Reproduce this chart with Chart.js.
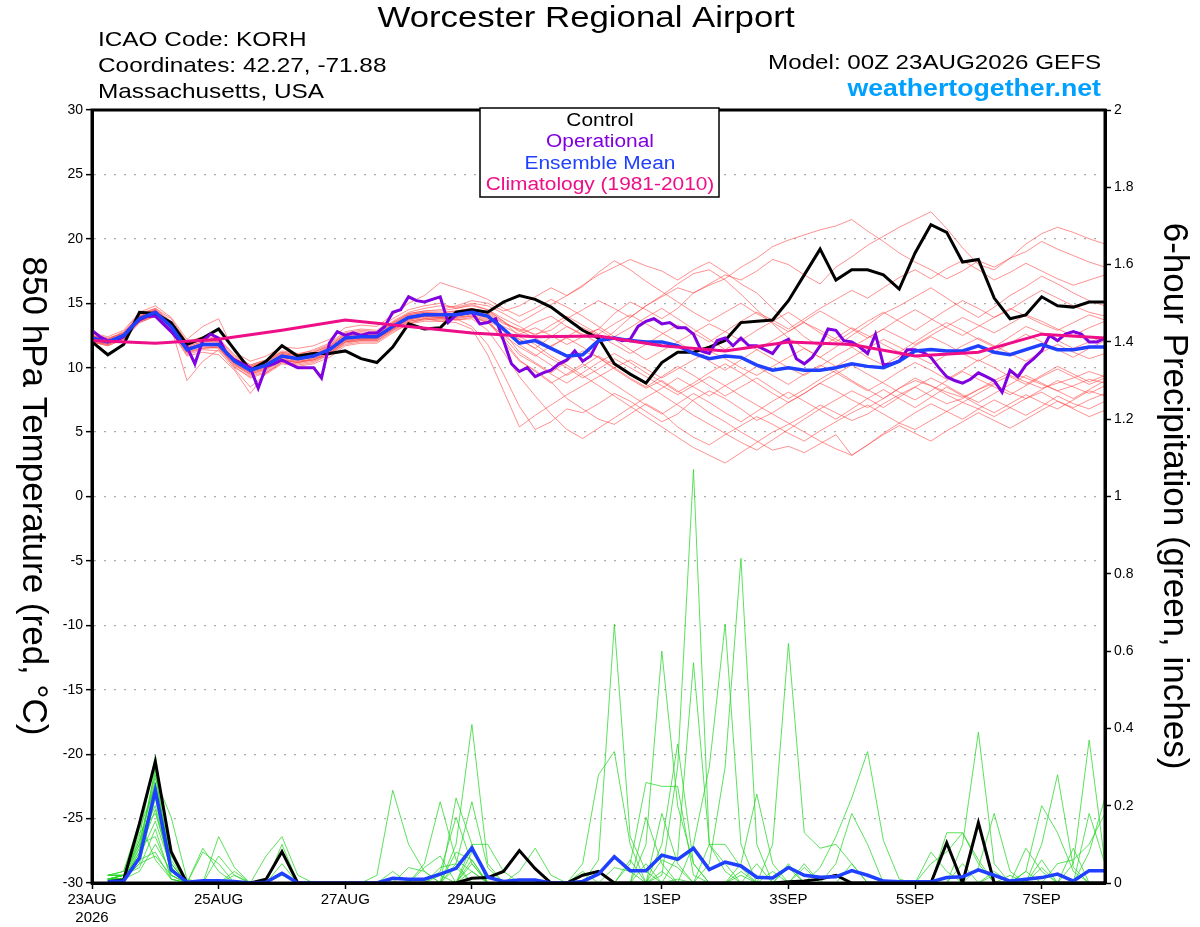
<!DOCTYPE html>
<html>
<head>
<meta charset="utf-8">
<script src="https://cdn.jsdelivr.net/npm/chart.js@4.4.1/dist/chart.umd.min.js"></script>
<style>
html, body { margin: 0; padding: 0; background: #fff; }
#wrap { width: 1200px; height: 927px; position: relative; }
</style>
</head>
<body>
<div id="wrap"><canvas id="meteogram"></canvas></div>
<script>
// time axis: hours after 00Z 23AUG2026
var xTickHours = [0, 48, 96, 144, 216, 264, 312, 360];
var xTickLabels = [['23AUG', '2026'], '25AUG', '27AUG', '29AUG', '1SEP', '3SEP', '5SEP', '7SEP'];

// 850 hPa temperature (C), 6-hourly
var controlTemp = [12.0,11.0,11.8,14.3,14.2,13.5,11.8,12.3,13.0,11.4,9.8,10.5,11.7,10.9,11.1,11.1,11.3,10.7,10.4,11.6,13.4,13.0,13.1,14.3,14.5,14.3,15.1,15.6,15.3,14.7,13.8,12.9,12.3,10.3,9.5,8.8,10.4,11.2,11.2,11.6,12.1,13.5,13.6,13.7,15.2,17.2,19.2,16.8,17.6,17.6,17.2,16.1,18.9,21.1,20.5,18.2,18.4,15.4,13.8,14.1,15.5,14.8,14.7,15.1,15.1];
var meanTemp = [12.3,12.0,12.5,13.8,14.3,13.2,11.4,11.8,11.8,10.5,9.8,10.2,10.9,10.7,10.9,11.4,12.3,12.4,12.4,13.2,13.9,14.1,14.1,14.1,14.3,14.0,13.0,11.9,12.1,11.5,10.9,11.0,12.1,12.3,12.1,12.0,12.0,11.7,11.1,10.7,10.9,10.8,10.2,9.8,10.0,9.8,9.8,10.0,10.3,10.1,10.0,10.5,11.3,11.4,11.3,11.3,11.7,11.2,11.0,11.4,11.8,11.4,11.4,11.6,11.6];
// operational run, 3-hourly
var operationalTemp = [12.9,12.4,12.1,12.1,12.4,13.2,13.7,14.0,14.0,13.4,
  12.8,12.1,11.6,10.3,12.1,12.6,12.3,11.1,10.6,10.3,
  10.0,8.4,10.1,10.3,10.6,10.3,10.0,10.0,10.0,9.2,
  11.9,12.8,12.5,12.7,12.5,12.7,12.7,13.2,14.3,14.5,
  15.5,15.2,15.1,15.3,15.5,13.5,14.1,14.2,14.3,13.4,
  13.5,13.8,12.1,10.3,9.7,10.0,9.3,9.6,9.8,10.3,
  10.6,11.3,10.5,10.9,12.1,12.2,12.3,12.1,12.2,13.2,
  13.6,13.8,13.4,13.5,13.1,13.1,12.6,11.3,11.1,12.1,
  12.3,11.7,12.3,11.7,11.7,11.4,11.1,11.9,12.2,10.7,
  10.3,10.8,11.7,13.0,12.9,12.1,12.0,11.6,11.1,12.6,
  10.2,10.3,10.5,11.4,11.4,11.2,10.8,10.0,9.3,9.0,
  8.8,9.1,9.6,9.3,9.0,8.1,9.8,9.3,10.2,10.7,
  11.3,12.5,12.1,12.6,12.8,12.6,12.0,12.0,12.3];
// climatology 1981-2010, daily
var climoTemp = [12.1,11.9,12.2,12.9,13.7,13.2,12.7,12.4,12.45,11.7,11.3,12.0,11.8,10.9,11.2,12.6,12.3];

// ensemble members, 6-hourly
var memberTemps = [
  [12.5,12.2,12.8,14.2,14.6,13.8,12.0,12.4,12.3,11.0,10.2,10.6,11.2,11.0,11.4,11.9,12.8,13.0,12.9,13.8,14.5,14.8,15.0,14.6,14.9,14.5,13.6,12.8,13.5,14.0,13.2,12.5,13.0,14.2,15.1,14.5,13.8,14.6,15.8,16.5,17.2,16.8,17.5,18.4,18.0,17.2,16.5,17.8,18.6,19.5,20.2,20.9,21.5,22.1,20.8,19.3,18.0,17.6,18.5,19.0,19.8,19.2,18.7,18.2,17.8],
  [12.1,11.8,12.3,13.6,14.1,13.0,11.2,11.5,11.6,10.2,9.5,9.9,10.6,10.4,10.7,11.2,12.1,12.2,12.3,13.0,13.8,14.0,14.2,14.4,14.6,14.2,13.4,13.0,12.6,12.9,13.8,14.5,15.2,14.6,13.9,14.8,15.5,16.2,15.8,16.4,16.9,17.8,18.5,19.4,19.9,20.3,20.7,21.0,21.5,20.6,19.8,18.9,18.2,17.6,16.9,17.5,18.3,17.8,18.5,19.6,20.4,20.9,20.5,20.0,19.6],
  [12.0,11.7,12.2,13.5,14.0,12.8,10.9,11.2,11.0,9.8,8.0,9.6,10.4,10.2,10.4,11.0,11.8,12.0,12.0,12.8,13.4,13.8,13.6,13.8,13.2,11.8,9.5,7.0,5.2,5.8,6.8,6.5,7.2,8.0,7.4,6.6,5.8,6.4,7.5,8.2,7.6,6.8,5.9,6.5,7.3,8.0,8.8,8.2,7.5,6.9,7.6,8.4,9.0,8.6,8.1,7.7,8.3,9.0,9.6,9.2,8.7,8.2,8.6,9.1,8.8],
  [12.4,12.1,12.6,13.9,14.4,13.4,11.6,12.0,12.1,10.8,10.1,10.5,11.1,10.9,11.1,11.6,12.5,12.6,12.5,13.4,14.1,14.3,14.2,14.0,14.5,14.4,13.6,12.4,11.8,10.9,10.2,9.4,8.6,7.8,7.0,6.2,5.4,4.6,3.8,3.2,2.6,3.4,4.2,5.0,5.6,6.3,7.1,6.5,5.9,6.4,7.2,7.9,8.5,7.8,7.2,7.6,8.3,8.8,9.4,8.9,8.4,8.8,9.2,9.7,9.3],
  [12.2,11.9,12.4,13.7,14.2,13.1,11.3,11.7,11.9,10.6,9.9,10.3,11.0,10.8,11.0,11.5,12.4,12.5,12.4,13.2,13.9,14.2,14.0,14.1,14.4,14.1,12.8,11.2,10.4,9.6,10.5,11.3,10.8,9.9,9.1,8.4,9.0,8.2,7.4,6.5,5.8,5.0,4.3,3.6,3.9,3.4,4.1,4.8,3.2,4.0,4.9,5.7,6.5,7.2,6.6,6.0,6.8,7.5,6.9,6.3,7.0,7.8,7.2,6.8,7.4],
  [12.6,12.3,12.7,14.0,14.5,13.5,11.8,12.2,12.0,10.3,9.6,10.0,10.8,10.6,10.8,11.3,12.2,12.3,12.3,13.1,13.8,14.0,13.9,14.0,14.2,13.8,12.0,10.5,9.8,8.9,7.6,6.8,6.0,5.6,6.4,7.2,6.5,5.4,4.6,4.0,4.8,5.5,6.2,5.6,4.9,4.3,5.1,5.8,6.5,7.1,6.4,5.7,5.2,5.9,6.6,7.3,6.8,6.2,6.9,7.6,8.1,7.4,6.9,7.5,8.0],
  [12.3,12.0,12.6,14.0,14.5,13.4,11.5,11.9,11.9,10.7,10.0,10.4,11.1,10.9,11.2,11.7,12.6,12.7,12.6,13.5,14.2,14.4,14.5,14.8,15.2,15.0,14.4,14.8,15.5,16.2,15.6,16.4,17.2,17.8,18.4,17.9,17.5,16.8,17.6,18.2,17.4,16.5,15.8,14.6,13.5,12.4,11.6,12.3,13.1,12.5,11.8,11.2,12.0,12.8,13.5,12.9,12.2,11.6,12.4,13.2,12.7,12.1,11.5,12.0,12.4],
  [12.0,11.8,12.3,13.6,14.1,13.0,11.2,11.6,11.5,10.2,9.4,9.8,10.6,10.5,10.6,11.1,12.0,12.1,12.1,12.9,13.6,13.8,13.9,13.9,14.1,13.7,12.9,12.2,11.5,12.4,13.2,12.6,11.9,12.8,13.9,14.8,15.6,16.5,17.3,17.6,16.8,15.7,14.5,13.4,12.3,11.5,10.8,11.6,12.5,13.3,14.2,14.8,15.5,16.2,15.4,14.6,13.9,14.7,15.6,16.3,17.1,16.5,15.8,15.2,14.8],
  [12.2,12.0,12.5,13.8,14.3,13.3,11.6,11.8,11.7,10.4,9.7,10.1,10.8,10.6,10.9,11.4,12.3,12.5,12.4,13.2,13.9,14.1,14.0,14.2,14.3,14.0,13.2,12.6,13.1,12.5,11.8,12.4,13.0,12.2,11.4,10.6,11.3,12.0,11.2,10.5,9.8,10.6,11.4,10.7,10.0,9.4,10.1,10.9,11.6,10.8,10.2,10.9,11.7,12.4,11.8,11.1,10.5,11.2,11.9,12.6,12.0,11.4,10.8,11.5,12.1],
  [12.5,12.1,12.6,13.9,14.4,13.3,11.4,11.7,11.6,10.0,9.3,9.7,10.5,10.4,10.6,11.1,12.0,12.2,12.2,13.0,13.7,14.0,13.9,13.7,13.9,13.5,12.5,11.6,10.9,11.7,12.3,11.6,10.8,10.0,9.2,8.5,9.3,10.1,9.4,8.6,7.8,8.5,9.2,8.4,7.6,8.3,9.1,9.8,9.0,8.3,7.6,8.4,9.2,8.6,7.9,7.3,8.0,8.7,8.1,7.6,8.3,9.0,8.5,8.0,8.6],
  [12.7,12.4,12.9,14.3,14.8,13.9,12.2,13.2,13.8,11.2,10.5,10.9,11.6,11.5,11.7,12.2,13.1,13.3,13.2,14.1,15.0,15.6,16.6,16.2,15.8,15.3,14.6,14.0,14.6,15.3,14.7,14.0,13.2,12.4,13.1,13.9,14.6,13.8,13.0,12.2,11.4,12.1,12.9,13.6,14.3,13.5,12.7,12.0,12.8,13.6,14.3,13.6,12.9,13.7,14.5,15.2,14.6,13.9,14.5,15.3,16.0,15.4,14.8,14.3,14.0],
  [12.1,11.9,12.4,13.7,14.2,13.1,9.0,10.5,11.4,10.1,9.2,9.6,10.4,10.3,10.5,11.0,11.9,12.1,12.1,12.9,13.5,13.7,13.8,13.7,13.8,12.9,11.2,9.3,7.8,6.4,5.2,4.5,5.3,6.1,6.9,7.7,8.4,9.2,8.5,7.8,8.6,9.3,10.1,9.4,8.7,9.5,10.2,9.6,8.9,8.2,8.9,9.7,10.4,9.8,9.1,9.8,10.6,10.0,9.3,8.7,9.4,10.1,9.5,8.9,9.4],
  [12.3,12.1,12.5,13.8,14.2,13.2,11.5,11.9,11.8,10.5,9.8,10.2,10.9,10.7,10.9,11.5,12.4,12.5,12.4,13.3,14.0,14.2,14.1,14.3,14.5,14.2,13.0,11.8,11.0,10.2,9.4,10.1,10.9,10.2,9.5,8.7,7.9,7.1,6.3,5.6,4.9,4.2,3.6,4.4,5.2,6.0,6.8,7.5,8.2,7.6,6.9,7.7,8.5,9.2,8.6,7.9,7.3,8.0,8.7,9.4,8.8,8.2,7.6,8.3,9.0],
  [12.4,12.1,12.6,13.9,14.4,13.3,11.5,11.8,11.9,10.6,10.0,10.4,11.0,10.8,11.0,11.6,12.5,12.6,12.6,13.4,14.1,14.3,14.3,14.4,14.6,14.3,13.5,12.9,12.3,11.6,12.4,13.1,12.5,11.8,11.1,11.8,12.6,13.3,12.7,12.0,12.8,13.6,14.3,13.7,13.0,13.8,14.6,15.3,16.0,15.4,16.2,17.0,17.6,16.9,17.7,18.3,17.6,16.8,17.4,18.1,17.5,16.9,16.4,16.8,17.2],
  [12.2,11.9,12.4,13.7,14.3,13.2,11.4,11.7,11.7,10.4,9.6,10.0,10.7,10.5,10.7,11.2,12.1,12.3,12.3,13.1,13.7,13.9,13.8,13.9,14.0,13.6,12.4,11.0,10.3,9.5,8.8,9.6,10.4,11.1,10.4,9.6,8.9,8.1,8.8,9.6,10.3,9.6,8.8,8.0,7.3,8.0,8.8,9.5,10.2,9.5,8.8,8.1,7.5,8.2,9.0,9.7,9.1,8.5,7.9,8.6,9.3,9.9,9.3,8.7,9.2],
  [12.0,11.7,12.2,13.5,14.0,12.9,11.0,11.4,11.3,9.9,8.5,9.5,10.3,10.1,10.3,10.8,11.7,11.9,11.9,12.7,13.4,13.6,13.6,13.5,13.0,11.0,8.2,5.4,6.3,7.1,7.9,8.6,9.3,10.0,10.6,9.9,9.2,9.9,10.6,11.3,10.7,10.0,9.4,10.1,10.8,11.5,10.8,10.1,10.8,11.5,12.2,11.6,10.9,10.3,11.0,11.7,12.3,11.7,11.1,10.5,11.2,11.8,11.2,10.7,11.1],
  [12.5,12.2,12.7,14.1,14.6,13.6,11.8,12.1,12.2,10.9,10.2,10.6,11.3,11.1,11.3,11.8,12.7,12.9,12.8,13.6,14.3,14.6,14.8,14.7,15.0,14.8,14.2,13.5,14.2,14.9,15.6,16.3,17.4,18.3,17.6,16.7,15.9,15.1,14.3,13.6,14.3,15.0,14.2,13.5,12.8,13.6,14.4,13.7,13.0,12.3,13.0,13.8,14.5,13.8,13.1,12.5,13.2,13.9,14.6,14.0,13.4,12.9,13.5,14.1,13.7],
  [12.3,12.0,12.4,13.7,14.2,13.1,11.3,11.8,11.8,10.5,9.7,10.1,10.8,10.6,10.8,11.3,12.2,12.4,12.3,13.1,13.8,14.0,13.9,14.0,14.2,13.9,12.9,12.2,11.5,10.7,10.0,9.2,9.9,10.7,10.0,9.3,8.6,7.9,8.6,9.3,8.6,7.8,7.1,6.4,5.7,5.0,4.3,3.7,3.2,4.0,4.8,5.5,4.9,4.3,5.1,5.8,6.5,5.9,5.3,6.0,6.7,7.4,6.8,6.2,6.7],
  [12.4,12.2,12.7,14.0,14.5,13.5,11.7,12.0,12.0,10.7,10.1,10.5,11.2,11.0,11.2,11.7,12.6,12.8,12.7,13.5,14.2,14.4,14.4,14.6,14.8,14.5,13.8,13.2,12.5,13.3,14.0,13.3,12.6,13.4,14.1,13.4,12.7,12.0,12.7,13.4,12.8,12.1,11.4,12.1,12.8,13.5,12.9,12.2,11.6,12.3,13.0,12.4,11.8,12.5,13.2,13.9,13.3,12.7,13.4,14.1,13.6,13.0,12.5,13.1,13.6],
  [12.1,11.8,12.3,13.6,14.1,13.0,11.1,11.5,11.6,10.3,9.5,9.9,10.6,10.4,10.6,11.1,12.0,12.2,12.2,13.0,13.6,13.8,13.7,13.8,14.0,13.5,12.2,10.6,9.7,8.8,9.5,10.3,9.5,8.7,7.9,7.1,6.4,7.2,8.0,7.3,6.5,5.8,6.6,7.4,8.1,7.4,6.7,6.0,6.8,7.6,8.3,7.6,6.9,7.7,8.5,7.8,7.1,6.5,7.2,7.9,7.3,6.8,7.5,8.2,7.8]
];

// 6-hour precipitation (inches), 6-hourly, first value has no accumulation
var controlPrecip = [null,.003,.008,.154,.314,.081,0,0,0,0,0,.01,.081,0,0,0,0,0,0,0,0,0,0,0,.012,.014,.03,.084,.037,0,0,.02,.03,0,0,0,0,0,0,0,0,0,0,0,.003,.005,.01,.02,0,0,0,0,0,0,.104,0,.156,0,0,0,0,0,0,0,0];
var meanPrecip = [null,.003,.005,.065,.24,.034,.002,.006,.006,.004,0,.002,.025,0,0,0,0,0,0,.012,.01,.01,.023,.038,.091,.015,.004,.008,.008,0,0,.004,.023,.068,.032,.032,.072,.061,.09,.035,.054,.044,.015,.013,.04,.02,.015,.016,.032,.02,.005,.003,.003,.003,.014,.016,.034,.02,.005,.01,.014,.023,.005,.032,.032];
var memberPrecips = [
  [null,.01,.02,.12,.33,.05,0,0,0,.02,0,0,0, 0,0,0,0,0,0,0,0,0,0,0,.03,0, 0,0,0,0,0,0,.06,.67,.12,.03,0,.01,0, 0,0,.02,0,0,0,0,0,0,0,0,0,0, 0,0,0,0,0,0,.02,0,0,0,0,0,0],
  [null,.01,.01,.08,.30,.08,0,0,0,0,0,0,0, 0,0,0,0,0,.02,.24,.1,.03,0,0,0,0, 0,0,0,0,0,.05,.28,.34,.1,0,.03,0,0, 0,0,0,0,0,0,0,0,0,0,0,0,0, 0,0,0,0,0,0,0,0,.04,0,0,0,0],
  [null,.02,.02,.1,.29,.03,0,.09,.03,0,0,0,0, 0,0,0,0,0,0,0,0,0,.04,.05,0,0, 0,0,0,0,0,0,0,0,0,.1,.6,.2,.05, 0,0,0,0,0,0,0,0,0,0,0,0,0, 0,0,0,0,0,0,0,.03,0,0,0,0,0],
  [null,.01,.01,.06,.27,.17,.01,0,.12,.04,0,0,0, 0,0,0,0,0,0,0,0,0,0,0,.06,0, 0,0,0,0,0,0,0,0,0,0,.18,.05,0, 0,0,0,0,0,0,.04,0,0,0,0,0,0, 0,0,0,0,0,0,0,0,0,0,.05,.37,.05],
  [null,.02,.03,.14,.25,.04,0,0,0,0,0,0,0, 0,0,0,0,0,0,0,0,.05,.21,.06,.03,0, 0,0,0,0,0,0,0,0,.05,.26,.25,.25,.02, 0,0,0,0,0,0,0,0,0,0,0,0,0, 0,0,0,.05,0,0,0,0,0,0,0,0,0],
  [null,.01,.02,.09,.24,.06,0,0,0,0,0,0,.02, 0,0,0,0,0,0,0,0,0,0,.22,.1,0, 0,0,0,0,0,0,0,0,0,.17,.05,0,0, 0,0,.03,0,0,0,0,0,0,0,0,0,0, 0,0,.13,.13,.05,0,0,0,0,0,0,0,0],
  [null,.01,.01,.05,.22,.02,0,0,0,0,0,0,0, 0,0,0,0,0,0,0,0,0,.03,.17,.05,0, 0,0,0,0,0,0,0,0,0,0,.1,.36,.05, 0,0,0,0,0,.05,0,0,0,0,0,0,0, 0,0,0,0,0,0,0,0,.06,0,0,0,0],
  [null,.01,.02,.11,.20,.03,0,0,0,0,0,0,0, 0,0,0,0,0,0,0,0,0,0,.1,.41,.05, 0,0,0,0,0,0,0,0,0,0,.02,.3,1.07, .1,.03,0,0,0,0,0,0,0,0,0,0,0, 0,0,0,0,0,.03,0,0,0,0,0,0,0],
  [null,.02,.02,.13,.18,.05,0,0,0,0,0,0,0, 0,0,0,0,0,0,0,0,0,0,.05,.21,.04, 0,0,0,0,0,0,0,0,0,0,0,.07,.57, .1,.05,0,0,0,0,0,0,0,0,0,0,0, 0,0,0,0,0,0,0,0,0,0,0,.08,.22],
  [null,.01,.01,.07,.16,.04,0,0,0,0,0,0,0, 0,0,0,0,0,0,0,0,0,0,0,.1,.1, .03,0,0,0,0,0,0,0,0,0,0,0,.1, .3,.67,.1,0,0,0,0,0,0,.05,0,0,0, 0,0,0,0,0,0,0,0,0,0,.09,0,0],
  [null,.02,.02,.04,.14,.01,0,0,0,0,0,0,0, 0,0,0,0,0,0,0,0,0,0,0,0,0, 0,.03,.09,.02,0,0,0,0,0,0,0,0,0, .1,.1,.04,0,0,0,0,0,0,0,0,0,0, 0,.08,.03,0,0,0,0,0,0,0,0,0,0],
  [null,.01,.02,.1,.12,.02,0,.08,.05,0,0,0,0, 0,0,0,0,0,0,0,0,0,0,0,0,0, 0,0,0,0,0,0,0,0,0,0,0,0,0, .05,.3,.84,.1,0,0,0,0,0,0,0,0,0, 0,0,0,0,0,0,0,.09,.03,0,0,0,0],
  [null,.01,.01,.03,.10,.03,0,0,.07,.02,0,0,0, 0,0,0,0,0,0,0,0,0,0,0,0,0, 0,0,0,0,0,0,0,0,0,0,0,0,0, 0,0,.05,.23,.05,0,0,0,0,0,0,0,0, 0,0,0,0,0,0,0,0,.1,.28,.04,0,0],
  [null,.01,.02,.06,.08,.01,0,0,0,0,0,.07,.12, .02,0,0,0,0,0,0,0,0,0,0,0,0, 0,0,0,0,0,0,0,0,0,0,0,0,0, 0,0,0,0,.1,.62,.13,.09,.1,.05,0,0,0, 0,0,0,0,0,.02,0,0,0,0,0,0,0],
  [null,.01,.01,.05,.07,.02,0,0,0,0,0,0,.1, 0,0,0,0,0,0,0,.04,.03,0,0,0,0, 0,0,0,0,0,0,0,.04,.03,0,0,0,0, 0,0,0,0,0,0,.05,0,0,0,0,0,0, 0,0,0,0,.04,.18,.03,0,0,0,0,0,0],
  [null,.02,.03,.16,.06,.01,0,0,0,0,0,0,.05, 0,0,0,0,0,0,0,0,0,0,.08,.06,0, 0,0,0,0,0,0,0,0,0,0,0,0,0, 0,0,0,0,0,0,0,.04,.12,.22,.34,.11,.01, 0,0,0,0,0,0,0,0,0,0,0,.18,.05],
  [null,.01,.01,.09,.28,.04,0,0,0,.03,0,0,0, 0,0,0,0,0,0,0,0,0,.02,0,.05,0, 0,0,0,0,0,0,0,0,0,0,0,0,0, 0,0,0,0,0,0,0,0,.05,.18,.1,0,0, 0,0,0,0,0,0,0,.03,.2,.13,.03,0,0],
  [null,.02,.02,.11,.26,.07,0,0,0,0,0,0,0, 0,0,0,0,0,0,.03,0,0,0,0,.08,.02, 0,0,0,0,0,0,.03,0,.06,0,0,0,0, 0,0,0,.05,0,0,0,0,0,0,0,0,0, 0,.05,.08,.13,.06,0,0,0,0,0,0,0,0],
  [null,.01,.02,.07,.23,.05,0,0,0,0,0,0,0, 0,0,0,0,0,0,0,0,.04,.07,0,0,0, 0,0,0,0,0,0,0,0,0,0,.06,.04,0, 0,0,0,0,.03,0,0,0,0,0,0,0,0, 0,0,0,.1,.39,.05,0,0,0,0,0,0,0],
  [null,.01,.01,.08,.19,.03,0,0,0,0,0,0,0, 0,0,0,0,0,0,0,0,0,0,.04,0,0, 0,0,0,0,0,.03,0,0,0,.05,0,0,0, 0,0,0,0,0,.04,0,0,0,0,0,0,0, 0,0,0,0,0,0,0,0,0,.05,.06,.1,.18]
];

var FONT = "'Liberation Sans', Arial, Helvetica, sans-serif";
Chart.defaults.font.family = FONT;

// put each value at its hour
function atHours(values, step) {
  return values.map(function (v, i) { return { x: i * step, y: v }; });
}

var datasets = [];
datasets.push({ data: atHours(climoTemp, 24), yAxisID: 'yT', borderColor: '#ee0f88', borderWidth: 3, order: 0 });
datasets.push({ data: atHours(meanTemp, 6), yAxisID: 'yT', borderColor: '#2040ff', borderWidth: 3.5, order: 1 });
datasets.push({ data: atHours(meanPrecip, 6), yAxisID: 'yP', borderColor: '#2040ff', borderWidth: 3.5, order: 1 });
datasets.push({ data: atHours(operationalTemp, 3), yAxisID: 'yT', borderColor: '#8000e0', borderWidth: 3, order: 2 });
datasets.push({ data: atHours(controlTemp, 6), yAxisID: 'yT', borderColor: '#000', borderWidth: 3, order: 3 });
datasets.push({ data: atHours(controlPrecip, 6), yAxisID: 'yP', borderColor: '#000', borderWidth: 3, order: 3 });
memberPrecips.forEach(function (m) {
  datasets.push({ data: atHours(m, 6), yAxisID: 'yP', borderColor: 'rgba(40,215,40,0.95)', borderWidth: 0.8, order: 4 });
});
memberTemps.forEach(function (m) {
  datasets.push({ data: atHours(m, 6), yAxisID: 'yT', borderColor: 'rgba(255,70,70,0.75)', borderWidth: 0.8, order: 5 });
});

// the original image text is a little wider than the font, so stretch it sideways
function wideText(ctx, text, x, y, sx) {
  ctx.save();
  ctx.translate(x, y);
  ctx.scale(sx, 1);
  ctx.fillText(text, 0, 0);
  ctx.restore();
}

var decor = {
  id: 'decor',
  afterDatasetsDraw: function (chart) {
    var ctx = chart.ctx, a = chart.chartArea;
    ctx.save();
    ctx.strokeStyle = '#000';
    ctx.lineWidth = 3;
    ctx.strokeRect(a.left, a.top, a.right - a.left, a.bottom - a.top);

    // legend box
    ctx.fillStyle = '#fff';
    ctx.fillRect(480, 108, 239, 89);
    ctx.lineWidth = 1.5;
    ctx.strokeRect(480, 108, 239, 89);
    ctx.font = '18px ' + FONT;
    ctx.textAlign = 'center';
    ctx.textBaseline = 'middle';
    ctx.fillStyle = '#000'; wideText(ctx, 'Control', 600, 121, 1.16);
    ctx.fillStyle = '#8000e0'; wideText(ctx, 'Operational', 600, 142, 1.16);
    ctx.fillStyle = '#2040ff'; wideText(ctx, 'Ensemble Mean', 600, 164, 1.16);
    ctx.fillStyle = '#ee0f88'; wideText(ctx, 'Climatology (1981-2010)', 600, 185, 1.16);

    // header
    ctx.fillStyle = '#000';
    ctx.font = '30px ' + FONT;
    wideText(ctx, 'Worcester Regional Airport', 586, 19, 1.16);
    ctx.font = '21px ' + FONT;
    ctx.textAlign = 'left';
    wideText(ctx, 'ICAO Code: KORH', 98, 40, 1.16);
    wideText(ctx, 'Coordinates: 42.27, -71.88', 98, 66, 1.16);
    wideText(ctx, 'Massachusetts, USA', 98, 92, 1.16);
    ctx.textAlign = 'right';
    wideText(ctx, 'Model: 00Z 23AUG2026 GEFS', 1101, 63, 1.15);
    ctx.font = 'bold 23px ' + FONT;
    ctx.fillStyle = '#00a0ff';
    wideText(ctx, 'weathertogether.net', 1101, 90, 1.16);

    // axis titles, both read top to bottom
    ctx.fillStyle = '#000';
    ctx.textAlign = 'center';
    ctx.font = '35px ' + FONT;
    ctx.save();
    ctx.translate(33, 496);
    ctx.rotate(Math.PI / 2);
    ctx.fillText('850 hPa Temperature (red, \u00B0C)', 0, 0);
    ctx.restore();
    ctx.save();
    ctx.translate(1174, 496);
    ctx.rotate(Math.PI / 2);
    ctx.fillText('6-hour Precipitation (green, inches)', 0, 0);
    ctx.restore();
    ctx.restore();
  }
};

new Chart(document.getElementById('meteogram'), {
  type: 'line',
  data: { datasets: datasets },
  options: {
    responsive: true,
    maintainAspectRatio: false,
    animation: false,
    layout: { padding: { top: 110, left: 0, right: 0, bottom: 0 } },
    plugins: { legend: { display: false }, tooltip: { enabled: false } },
    elements: { point: { radius: 0 }, line: { tension: 0 } },
    scales: {
      x: {
        type: 'linear', min: 0, max: 384, position: 'bottom',
        afterFit: function (s) { s.height = 44; },
        afterBuildTicks: function (s) { s.ticks = xTickHours.map(function (v) { return { value: v }; }); },
        ticks: {
          autoSkip: false, maxRotation: 0, color: '#000', padding: 2,
          font: { size: 15 },
          callback: function (v, i) { return xTickLabels[i]; }
        },
        grid: { drawOnChartArea: false, drawTicks: true, tickLength: 6, tickColor: '#000', tickWidth: 1.5 },
        border: { display: true, color: '#000', width: 3 }
      },
      yT: {
        position: 'left', min: -30, max: 30,
        afterFit: function (s) { s.width = 92; },
        ticks: { stepSize: 5, color: '#000', padding: 3, font: { size: 14 } },
        grid: { color: '#aaaaaa', lineWidth: 1.3, drawTicks: true, tickLength: 6, tickColor: '#000', tickWidth: 1.5, tickBorderDash: [] },
        border: { display: true, color: '#000', width: 3, dash: [2, 8] }
      },
      yP: {
        position: 'right', min: 0, max: 2,
        afterFit: function (s) { s.width = 95; },
        ticks: {
          stepSize: 0.2, color: '#000', padding: 3, font: { size: 14 },
          callback: function (v) { return String(Math.round(v * 10) / 10); }
        },
        grid: { drawOnChartArea: false, drawTicks: true, tickLength: 6, tickColor: '#000', tickWidth: 1.5 },
        border: { display: true, color: '#000', width: 3 }
      }
    }
  },
  plugins: [decor]
});
</script>
</body>
</html>
